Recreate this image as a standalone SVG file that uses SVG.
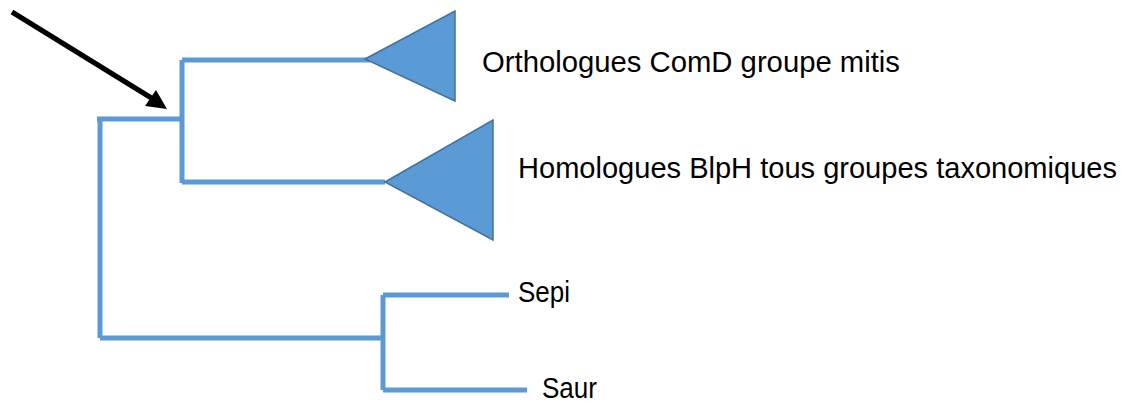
<svg xmlns="http://www.w3.org/2000/svg" width="1130" height="403" viewBox="0 0 1130 403">
<style>
.br{fill:none;stroke:#5B9BD5;stroke-width:5;stroke-linecap:butt;stroke-linejoin:miter}
.tri{fill:#5B9BD5;stroke:#41719C;stroke-width:1.5}
.lbl{font-family:"Liberation Sans",Arial,sans-serif;font-size:29px;fill:#000}
</style>
<rect width="1130" height="403" fill="#fff"/>
<g id="connectors">
<path class="br" d="M97,119 H182"/>
<path class="br" d="M100,119 V338"/>
<path class="br" d="M100,338 H383"/>
<path class="br" d="M182,60 V183"/>
<path class="br" d="M182,60 H370"/>
<path class="br" d="M182,182 H385"/>
<path class="br" d="M383,295 V390"/>
<path class="br" d="M383,295 H509"/>
<path class="br" d="M383,390 H527"/>
</g>
<g id="arrow">
<line x1="12" y1="12" x2="153" y2="99" stroke="#000" stroke-width="5"/>
<polygon points="167,109 145,106 156,90" fill="#000"/>
</g>
<g id="node-comd">
<polygon class="tri" points="365,59 455,11 455,101"/>
<text class="lbl" x="482" y="72" textLength="418" lengthAdjust="spacingAndGlyphs">Orthologues ComD groupe mitis</text>
</g>
<g id="node-blph">
<polygon class="tri" points="385,182 493,120 493,240"/>
<text class="lbl" x="518" y="178" textLength="599" lengthAdjust="spacingAndGlyphs">Homologues BlpH tous groupes taxonomiques</text>
</g>
<g id="node-sepi">
<text class="lbl" x="518" y="302" textLength="52" lengthAdjust="spacingAndGlyphs">Sepi</text>
</g>
<g id="node-saur">
<text class="lbl" x="542" y="398" textLength="55" lengthAdjust="spacingAndGlyphs">Saur</text>
</g>
</svg>
